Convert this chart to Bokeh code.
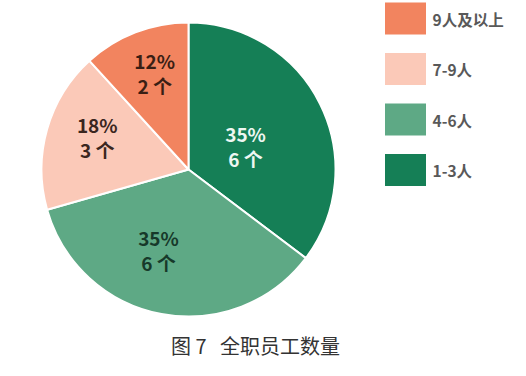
import math
from bokeh.plotting import figure
from bokeh.models import Range1d, ColumnDataSource
from bokeh.core.properties import value
from bokeh.embed import file_html
from bokeh.resources import INLINE

# ---- data ----
categories = ["1-3人", "4-6人", "7-9人", "9人及以上"]
counts = [6, 6, 3, 2]
percent_labels = ["35%", "35%", "18%", "12%"]
count_labels = ["6 个", "6 个", "3 个", "2 个"]
caption = "图 7\u00a0\u00a0\u00a0全职员工数量"

# ---- styles ----
colors = ["#157f56", "#5ea985", "#fbc9b8", "#f2845f"]
label_colors = ["#eef7f2", "#17392a", "#3a2620", "#3a1e14"]
label_r_frac = [0.42, 0.58, 0.66, 0.70]
label_ang_shift = [4, 10, 4, 2]  # degrees, clockwise
FONT = "Noto Sans CJK SC"

W, H = 510, 360
p = figure(width=W, height=H, output_backend="svg", toolbar_location=None,
           x_range=Range1d(0, W), y_range=Range1d(16, 16 + H),
           min_border=0, outline_line_color=None)
p.axis.visible = False
p.grid.visible = False
p.background_fill_color = "white"
p.border_fill_color = "white"

cx, cy, R = 188, 376 - 169, 147
total = sum(counts)
starts, ends, mids = [], [], []
cum = 0
for c in counts:
    a0 = math.pi / 2 - 2 * math.pi * cum / total
    cum += c
    a1 = math.pi / 2 - 2 * math.pi * cum / total
    starts.append(a0)
    ends.append(a1)
    mids.append((a0 + a1) / 2)

src = ColumnDataSource(dict(start=starts, end=ends, color=colors))
p.wedge(x=cx, y=cy, radius=R, start_angle="start", end_angle="end",
        direction="clock", fill_color="color", line_color="white",
        line_width=2, source=src)

lx, ly = [], []
for m, f, s in zip(mids, label_r_frac, label_ang_shift):
    a = m - math.radians(s)
    lx.append(cx + R * f * math.cos(a))
    ly.append(cy + R * f * math.sin(a))
lsrc = ColumnDataSource(dict(x=lx, y=ly, t1=percent_labels, t2=count_labels,
                             c=label_colors))
p.text(x="x", y="y", text="t1", source=lsrc, text_color="c",
       text_font=value(FONT), text_font_size="19px", text_font_style="bold",
       text_align="center", text_baseline="middle", y_offset=-12)
p.text(x="x", y="y", text="t2", source=lsrc, text_color="c",
       text_font=value(FONT), text_font_size="19px", text_font_style="bold",
       text_align="center", text_baseline="middle", y_offset=13)

# legend (top to bottom: reverse order)
leg_n = len(categories)
leg_top = 376 - 18
leg_step = 50.5
ly_leg = [leg_top - i * leg_step for i in range(leg_n)]
leg_src = ColumnDataSource(dict(
    y=ly_leg,
    name=categories[::-1],
    color=colors[::-1],
))
p.rect(x=405, y="y", width=41, height=32, fill_color="color",
       line_color=None, source=leg_src)
p.text(x=432, y="y", text="name", source=leg_src, text_color="#595959",
       text_font=value(FONT), text_font_size="15.5px", text_font_style="bold",
       text_align="left", text_baseline="middle")

p.text(x=[255], y=[376 - 345], text=[caption], text_color="#333333",
       text_font=value(FONT), text_font_size="20px",
       text_align="center", text_baseline="middle")

open("out.html", "w").write(file_html(p, INLINE))
